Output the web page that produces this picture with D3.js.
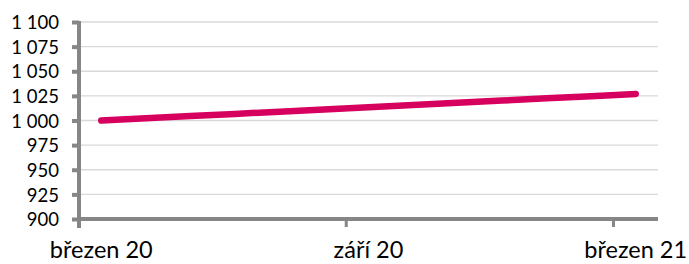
<!DOCTYPE html>
<html>
<head>
<meta charset="utf-8">
<script src="https://cdn.jsdelivr.net/npm/d3@7"></script>
<style>
  body { margin:0; background:#fff; }
  svg text { font-family: Lato, "Open Sans", sans-serif; fill:#000; }
</style>
</head>
<body>
<div id="chart"></div>
<script>
// months Mar 2020 .. Mar 2021
var months = ['2020-03','2020-04','2020-05','2020-06','2020-07','2020-08','2020-09',
              '2020-10','2020-11','2020-12','2021-01','2021-02','2021-03']
var values = [1000, 1002.2, 1004.5, 1006.7, 1009, 1011.2, 1013.5,
              1015.7, 1018, 1020.2, 1022.5, 1024.7, 1027]
var tickLabels = { '2020-03':'březen 20', '2020-09':'září 20', '2021-03':'březen 21' }
var yTicks = [900, 925, 950, 975, 1000, 1025, 1050, 1075, 1100]

var w = 689
var h = 264
var m = { top:22, right:31, bottom:45, left:79 }
var axisColor = '#868686'
var gridColor = '#d9d9d9'
var lineColor = '#d6005f'

var svg = d3.select('#chart').append('svg')
    .attr('width', w)
    .attr('height', h)

var x = d3.scaleBand()
    .domain(months)
    .range([m.left, w-m.right])
    .padding(0)

var y = d3.scaleLinear()
    .domain([900, 1100])
    .range([h-m.bottom, m.top])

var fmt = v=> d3.format(',')(v).replace(/,/g, ' ')

// gridlines
svg.append('g').selectAll('line')
    .data(yTicks.filter(d=> d > 900))
    .join('line')
    .attr('x1', m.left)
    .attr('x2', w-m.right)
    .attr('y1', d=> y(d))
    .attr('y2', d=> y(d))
    .attr('stroke', gridColor)
    .attr('stroke-width', 1.3)

// y axis
var yAxis = d3.axisLeft(y).tickValues(yTicks).tickFormat(fmt).tickSize(7).tickPadding(13)
var gy = svg.append('g')
    .attr('transform', 'translate(' + m.left + ',0)')
    .call(yAxis)
gy.select('.domain').remove()
gy.selectAll('.tick line').attr('stroke', axisColor).attr('stroke-width', 4)
gy.selectAll('.tick text').attr('font-size', 18.5).attr('dy', '0.36em')

// x axis ticks at band boundaries every 6 months
var xTickMonths = months.filter((d, i)=> i % 6 == 0)
svg.append('g').selectAll('line')
    .data(xTickMonths.slice(1))
    .join('line')
    .attr('x1', d=> x(d))
    .attr('x2', d=> x(d))
    .attr('y1', h-m.bottom)
    .attr('y2', h-m.bottom+8)
    .attr('stroke', axisColor)
    .attr('stroke-width', 3)

svg.append('g').selectAll('text')
    .data(xTickMonths)
    .join('text')
    .attr('x', d=> x(d) + x.bandwidth()/2)
    .attr('y', h-6)
    .attr('text-anchor', 'middle')
    .attr('font-size', 23.5)
    .text(d=> tickLabels[d])

// axis lines
svg.append('line')
    .attr('x1', m.left).attr('x2', m.left)
    .attr('y1', m.top-1).attr('y2', h-m.bottom+9)
    .attr('stroke', axisColor)
    .attr('stroke-width', 4)
svg.append('line')
    .attr('x1', m.left-2).attr('x2', w-m.right)
    .attr('y1', h-m.bottom).attr('y2', h-m.bottom)
    .attr('stroke', axisColor)
    .attr('stroke-width', 4)

// series
var line = d3.line()
    .x((d, i)=> x(months[i]) + x.bandwidth()/2)
    .y(d=> y(d))

svg.append('path')
    .datum(values)
    .attr('d', line)
    .attr('fill', 'none')
    .attr('stroke', lineColor)
    .attr('stroke-width', 6.5)
    .attr('stroke-linecap', 'round')
    .attr('stroke-linejoin', 'round')
</script>
</body>
</html>
